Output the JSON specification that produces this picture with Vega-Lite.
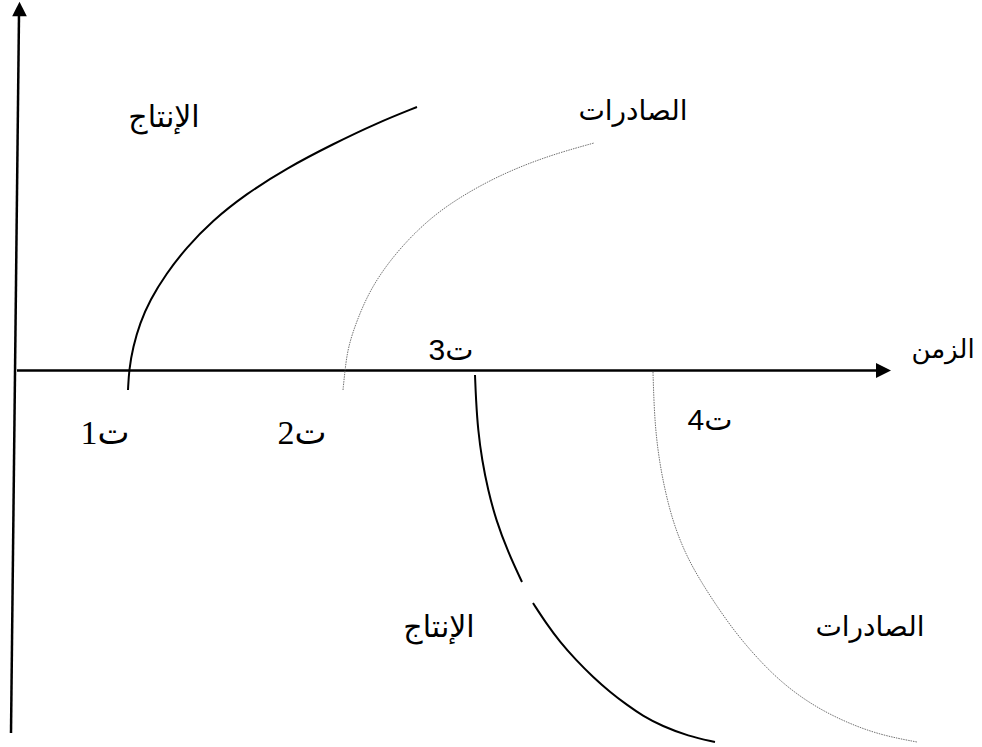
{
  "$schema": "https://vega.github.io/schema/vega-lite/v6.json",
  "width": 982,
  "height": 747,
  "autosize": {"type": "fit", "contains": "padding"},
  "padding": 0,
  "background": "white",
  "config": {"view": {"stroke": null}},
  "datasets": {
    "axes": [
      {"s": "vertical", "o": 0, "x": 11, "y": 733},
      {"s": "vertical", "o": 1, "x": 19, "y": 14},
      {"s": "horizontal", "o": 0, "x": 17, "y": 370.5},
      {"s": "horizontal", "o": 1, "x": 878, "y": 370.5}
    ],
    "production": [
      {"s": "up", "o": 0, "x": 128, "y": 390},
      {"s": "up", "o": 1, "x": 129, "y": 370},
      {"s": "up", "o": 2, "x": 133, "y": 347},
      {"s": "up", "o": 3, "x": 140, "y": 323},
      {"s": "up", "o": 4, "x": 150, "y": 300},
      {"s": "up", "o": 5, "x": 166, "y": 274},
      {"s": "up", "o": 6, "x": 186, "y": 248},
      {"s": "up", "o": 7, "x": 212, "y": 221},
      {"s": "up", "o": 8, "x": 246, "y": 194},
      {"s": "up", "o": 9, "x": 287, "y": 168},
      {"s": "up", "o": 10, "x": 333, "y": 144},
      {"s": "up", "o": 11, "x": 377, "y": 123},
      {"s": "up", "o": 12, "x": 417, "y": 107},
      {"s": "down1", "o": 0, "x": 475, "y": 375},
      {"s": "down1", "o": 1, "x": 476, "y": 400},
      {"s": "down1", "o": 2, "x": 478, "y": 430},
      {"s": "down1", "o": 3, "x": 482, "y": 460},
      {"s": "down1", "o": 4, "x": 488, "y": 490},
      {"s": "down1", "o": 5, "x": 496, "y": 520},
      {"s": "down1", "o": 6, "x": 508, "y": 552},
      {"s": "down1", "o": 7, "x": 522, "y": 582},
      {"s": "down2", "o": 0, "x": 533, "y": 603},
      {"s": "down2", "o": 1, "x": 546, "y": 623},
      {"s": "down2", "o": 2, "x": 560, "y": 642},
      {"s": "down2", "o": 3, "x": 576, "y": 660},
      {"s": "down2", "o": 4, "x": 593, "y": 677},
      {"s": "down2", "o": 5, "x": 610, "y": 692},
      {"s": "down2", "o": 6, "x": 627, "y": 705},
      {"s": "down2", "o": 7, "x": 643, "y": 716},
      {"s": "down2", "o": 8, "x": 662, "y": 726},
      {"s": "down2", "o": 9, "x": 688, "y": 736},
      {"s": "down2", "o": 10, "x": 715, "y": 742}
    ],
    "exports": [
      {"s": "up", "o": 0, "x": 343, "y": 390},
      {"s": "up", "o": 1, "x": 345, "y": 370},
      {"s": "up", "o": 2, "x": 348, "y": 347},
      {"s": "up", "o": 3, "x": 357, "y": 320},
      {"s": "up", "o": 4, "x": 370, "y": 290},
      {"s": "up", "o": 5, "x": 390, "y": 260},
      {"s": "up", "o": 6, "x": 417, "y": 230},
      {"s": "up", "o": 7, "x": 447, "y": 205},
      {"s": "up", "o": 8, "x": 488, "y": 181},
      {"s": "up", "o": 9, "x": 524, "y": 165},
      {"s": "up", "o": 10, "x": 558, "y": 153},
      {"s": "up", "o": 11, "x": 594, "y": 143},
      {"s": "down", "o": 0, "x": 653, "y": 372},
      {"s": "down", "o": 1, "x": 654, "y": 405},
      {"s": "down", "o": 2, "x": 656, "y": 435},
      {"s": "down", "o": 3, "x": 660, "y": 465},
      {"s": "down", "o": 4, "x": 666, "y": 495},
      {"s": "down", "o": 5, "x": 674, "y": 525},
      {"s": "down", "o": 6, "x": 686, "y": 555},
      {"s": "down", "o": 7, "x": 700, "y": 580},
      {"s": "down", "o": 8, "x": 716, "y": 605},
      {"s": "down", "o": 9, "x": 735, "y": 632},
      {"s": "down", "o": 10, "x": 757, "y": 658},
      {"s": "down", "o": 11, "x": 782, "y": 683},
      {"s": "down", "o": 12, "x": 812, "y": 705},
      {"s": "down", "o": 13, "x": 845, "y": 722},
      {"s": "down", "o": 14, "x": 880, "y": 735},
      {"s": "down", "o": 15, "x": 917, "y": 742}
    ],
    "arrowUp": [{"x": 19.5, "y": 9}],
    "arrowRight": [{"x": 883.5, "y": 370.5}],
    "productionLabels": [
      {"label": "الإنتاج", "x": 164, "y": 127},
      {"label": "الإنتاج", "x": 439, "y": 637}
    ],
    "exportLabels": [
      {"label": "الصادرات", "x": 633, "y": 120},
      {"label": "الصادرات", "x": 870, "y": 636}
    ],
    "timeLabel": [
      {"label": "الزمن", "x": 943, "y": 358}
    ],
    "sansTimes": [
      {"label": "ت3", "x": 451, "y": 360},
      {"label": "ت4", "x": 710, "y": 430}
    ],
    "serifTimes": [
      {"label": "ت1", "x": 105, "y": 444},
      {"label": "ت2", "x": 302, "y": 444}
    ]
  },
  "encoding": {
    "x": {"field": "x", "type": "quantitative", "scale": {"domain": [0, 982], "nice": false, "zero": false}, "axis": null},
    "y": {"field": "y", "type": "quantitative", "scale": {"domain": [0, 747], "nice": false, "zero": false, "reverse": true}, "axis": null}
  },
  "layer": [
    {
      "data": {"name": "axes"},
      "mark": {"type": "line", "color": "black", "strokeWidth": 2.5, "strokeCap": "butt"},
      "encoding": {"detail": {"field": "s"}, "order": {"field": "o", "type": "quantitative"}}
    },
    {
      "data": {"name": "exports"},
      "mark": {"type": "line", "color": "#707070", "strokeWidth": 1, "strokeDash": [1.5, 1], "interpolate": "basis"},
      "encoding": {"detail": {"field": "s"}, "order": {"field": "o", "type": "quantitative"}}
    },
    {
      "data": {"name": "production"},
      "mark": {"type": "line", "color": "black", "strokeWidth": 2, "interpolate": "basis"},
      "encoding": {"detail": {"field": "s"}, "order": {"field": "o", "type": "quantitative"}}
    },
    {
      "data": {"name": "arrowUp"},
      "mark": {"type": "point", "shape": "M0,-1L1,1L-1,1Z", "size": 215, "filled": true, "color": "black", "opacity": 1}
    },
    {
      "data": {"name": "arrowRight"},
      "mark": {"type": "point", "shape": "M1,0L-1,-1L-1,1Z", "size": 225, "filled": true, "color": "black", "opacity": 1}
    },
    {
      "data": {"name": "productionLabels"},
      "mark": {"type": "text", "font": "DejaVu Sans", "fontSize": 30, "align": "center", "baseline": "alphabetic", "color": "black"},
      "encoding": {"text": {"field": "label"}}
    },
    {
      "data": {"name": "exportLabels"},
      "mark": {"type": "text", "font": "DejaVu Sans", "fontSize": 28, "align": "center", "baseline": "alphabetic", "color": "black"},
      "encoding": {"text": {"field": "label"}}
    },
    {
      "data": {"name": "timeLabel"},
      "mark": {"type": "text", "font": "DejaVu Sans", "fontSize": 26, "align": "center", "baseline": "alphabetic", "color": "black"},
      "encoding": {"text": {"field": "label"}}
    },
    {
      "data": {"name": "sansTimes"},
      "mark": {"type": "text", "font": "Liberation Sans, DejaVu Sans", "fontSize": 30, "align": "center", "baseline": "alphabetic", "color": "black"},
      "encoding": {"text": {"field": "label"}}
    },
    {
      "data": {"name": "serifTimes"},
      "mark": {"type": "text", "font": "Liberation Serif, DejaVu Sans", "fontSize": 34, "align": "center", "baseline": "alphabetic", "color": "black"},
      "encoding": {"text": {"field": "label"}}
    }
  ]
}
